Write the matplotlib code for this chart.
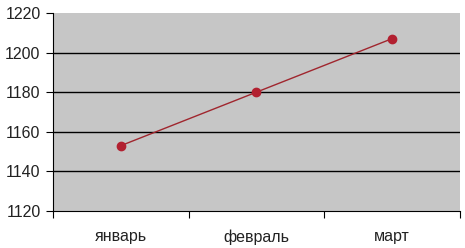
import matplotlib
matplotlib.use("Agg")
import matplotlib.pyplot as plt

months = ["январь", "февраль", "март"]
values = [1153, 1180, 1207]
y_ticks = [1120, 1140, 1160, 1180, 1200, 1220]

plt.rcParams['font.family'] = ['Liberation Sans', 'DejaVu Sans']

fig = plt.figure(figsize=(4.65, 2.48), dpi=100)
ax = fig.add_axes([0.114, 0.149, 0.875, 0.799])
ax.set_facecolor('#c6c6c6')

x = [i + 0.5 for i in range(len(months))]
ax.plot(x, values, color='#a0262e', lw=1, marker='o', markersize=6,
        markerfacecolor='#b22030', markeredgecolor='#b22030', zorder=3)

ax.set_xlim(0, len(months))
ax.set_ylim(y_ticks[0], y_ticks[-1])
ax.set_yticks(y_ticks)
for t in y_ticks[1:-1]:
    ax.axhline(t, color='black', lw=1, zorder=1)

ax.set_xticks(range(len(months) + 1))
ax.set_xticklabels([])
ax.set_xticks(x, minor=True)
ax.set_xticklabels(months, minor=True)
ax.tick_params(axis='x', which='minor', length=0, pad=13, labelsize=11.5, labelcolor='#222222')
ax.tick_params(axis='x', which='major', length=5, direction='out')
ax.tick_params(axis='y', length=5, labelsize=11.5, pad=4, labelcolor='#222222')

ax.spines['top'].set_visible(False)
ax.spines['right'].set_visible(False)

fig.savefig("out.png", dpi=100)
